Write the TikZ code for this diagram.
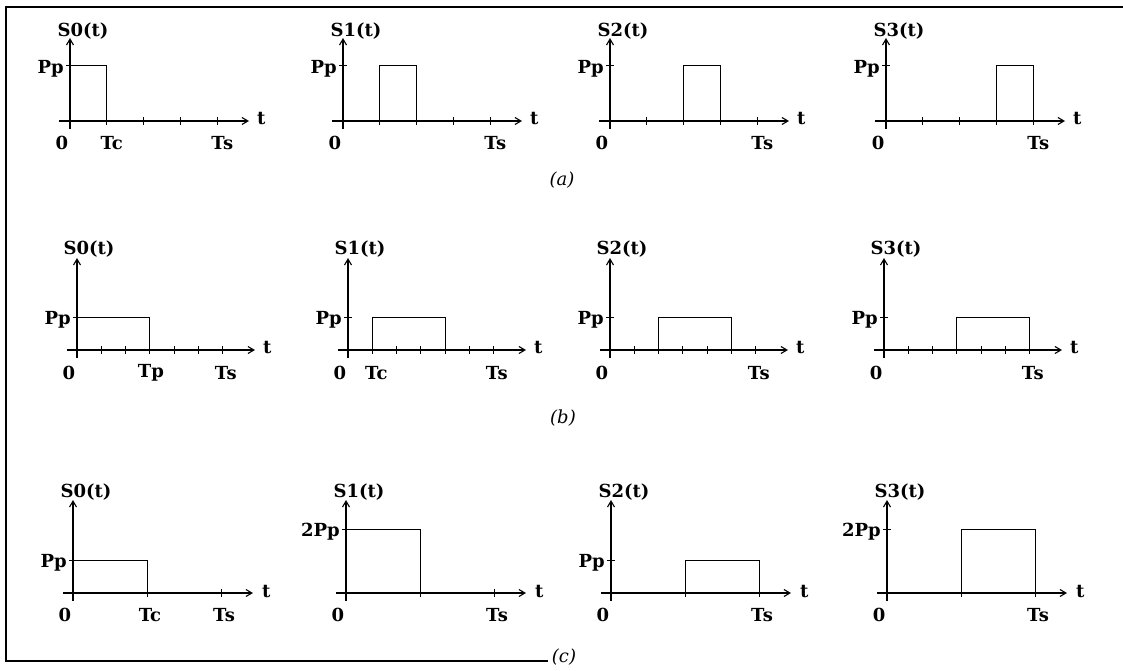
\documentclass[tikz,border=0pt]{standalone}
\usepackage{fontspec}
\setmainfont{DejaVu Serif}
\usetikzlibrary{arrows.meta}

\tikzset{
  frame/.style={line width=1.2pt},
  axis/.style={line width=1.1pt,-{Straight Barb[length=6pt,width=7pt]}},
  pulse/.style={line width=1pt},
  tickmark/.style={line width=1pt},
  lbl/.style={font=\fontsize{18}{20}\selectfont\bfseries,inner sep=0pt},
  caption/.style={font=\fontsize{18}{20}\selectfont\itshape,inner sep=0pt},
}

\begin{document}
\begin{tikzpicture}[x=1pt,y=-1pt]
\useasboundingbox (0,0) rectangle (1123,671);
\draw[frame] (1123,7) -- (6,7) -- (6,661) -- (548,661);

% (a): one chip out of four
\foreach \k/\xo in {0/70,1/343,2/610,3/886}{
  \draw[axis] (\xo-11,121) -- (\xo+179,121);
  \draw[axis] (\xo,129) -- (\xo,38);
  \foreach \m in {1,...,4}
    \draw[tickmark] (\xo+\m*36.8,117) -- (\xo+\m*36.8,125);
  \draw[tickmark] (\xo-4,66) -- (\xo+4,66);
  \draw[pulse] (\xo+\k*36.8,121) -- (\xo+\k*36.8,66) -- (\xo+\k*36.8+36.8,66) -- (\xo+\k*36.8+36.8,121);
  \node[lbl] (sa\k) at (\xo+13,31) {S\k(t)};
  \node[lbl,anchor=east] (pa\k) at (\xo-6,69) {Pp};
  \node[lbl] (za\k) at (\xo-8,143) {0};
  \node[lbl] (tsa\k) at (\xo+4*36.8+5,143) {Ts};
  \node[lbl,anchor=west] (ta\k) at (\xo+187,119) {t};
}
\node[lbl] (tca) at (70+36.8+5,143) {Tc};
\node[caption] (capa) at (562,180) {(a)};

% (b): three chips out of six
\foreach \k/\xo in {0/77,1/348,2/610,3/884}{
  \draw[axis] (\xo-10,350) -- (\xo+178,350);
  \draw[axis] (\xo,358) -- (\xo,258);
  \foreach \m in {1,...,6}
    \draw[tickmark] (\xo+\m*24.3,346) -- (\xo+\m*24.3,354);
  \draw[tickmark] (\xo-4,317) -- (\xo+4,317);
  \draw[pulse] (\xo+\k*24.3,350) -- (\xo+\k*24.3,317) -- (\xo+\k*24.3+72.9,317) -- (\xo+\k*24.3+72.9,350);
  \node[lbl] (sb\k) at (\xo+12,249) {S\k(t)};
  \node[lbl,anchor=east] (pb\k) at (\xo-6,320) {Pp};
  \node[lbl] (zb\k) at (\xo-8,373) {0};
  \node[lbl] (tsb\k) at (\xo+6*24.3+3,373) {Ts};
  \node[lbl,anchor=west] (tb\k) at (\xo+186,348) {t};
}
\node[lbl] (tpb) at (77+72.9+1,373) {Tp};
\node[lbl] (tcb) at (348+24.3+4,373) {Tc};
\node[caption] (capb) at (563,418) {(b)};

% (c): two levels, two halves
\foreach \k/\xo/\lev/\hl/\st in {0/73/33/Pp/0,1/346/64/2Pp/0,2/611/33/Pp/1,3/887/64/2Pp/1}{
  \draw[axis] (\xo-10,593) -- (\xo+180,593);
  \draw[axis] (\xo,601) -- (\xo,500);
  \foreach \m in {1,2}
    \draw[tickmark] (\xo+\m*74,589) -- (\xo+\m*74,597);
  \draw[tickmark] (\xo-4,593-\lev) -- (\xo+4,593-\lev);
  \draw[pulse] (\xo+\st*74,593) -- (\xo+\st*74,593-\lev) -- (\xo+\st*74+74,593-\lev) -- (\xo+\st*74+74,593);
  \node[lbl] (sc\k) at (\xo+13,492) {S\k(t)};
  \node[lbl,anchor=east] (pc\k) at (\xo-6,596-\lev) {\hl};
  \node[lbl] (zc\k) at (\xo-8,615) {0};
  \node[lbl] (tsc\k) at (\xo+151,615) {Ts};
  \node[lbl,anchor=west] (tc\k) at (\xo+189,591) {t};
}
\node[lbl] (tcc) at (73+74+3,615) {Tc};
\node[caption] (capc) at (564,657) {(c)};
\end{tikzpicture}
\end{document}
